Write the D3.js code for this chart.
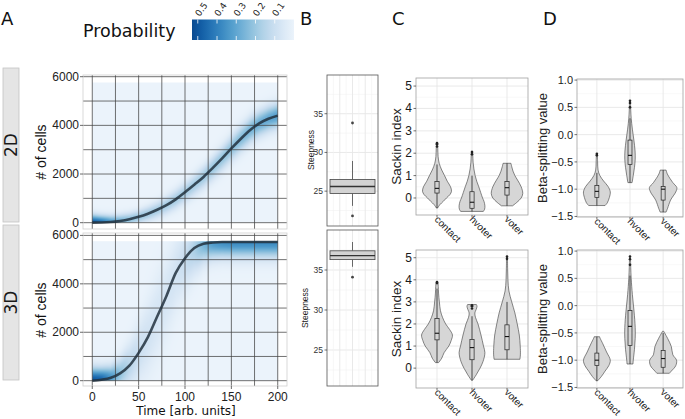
<!DOCTYPE html>
<html><head><meta charset="utf-8">
<script src="https://cdn.jsdelivr.net/npm/d3@7"></script>
<style>body{margin:0;background:#fff} svg{display:block}</style>
</head><body>
<svg id="fig" width="685" height="419"></svg>
<script>
// ---------------- DATA ----------------
const time = [0,10,20,30,40,50,60,70,80,90,100,110,120,130,140,150,160,170,180,190,200];
const cells2D = [0,5,25,70,140,240,370,530,720,960,1250,1560,1880,2250,2640,3050,3440,3800,4080,4270,4400];
const cells3D = [0,40,120,300,620,1150,1800,2650,3500,4450,5060,5480,5660,5710,5730,5730,5730,5730,5730,5730,5730];
const spreadUp2D = [220,200,190,185,185,190,205,225,245,265,280,295,310,325,340,350,355,355,350,345,340];
const spreadDown2D = [220,200,190,185,185,190,205,225,245,265,280,295,310,325,340,350,355,355,350,345,340];
const peak2D = [0.5,0.44,0.33,0.26,0.22,0.2,0.19,0.18,0.18,0.18,0.18,0.18,0.19,0.2,0.21,0.22,0.24,0.26,0.28,0.3,0.32];
const spreadUp3D = [350,330,330,420,600,800,1000,1100,1100,1000,800,500,300,200,180,180,180,180,180,180,180];
const spreadDown3D = [350,330,330,420,600,800,1000,1100,1100,1000,850,700,520,440,420,420,420,420,420,420,420];
const peak3D = [0.5,0.46,0.34,0.22,0.14,0.1,0.08,0.07,0.07,0.08,0.11,0.17,0.26,0.33,0.36,0.37,0.37,0.37,0.37,0.37,0.37];
const rasterTop = 5760;
const xTicksA = [0,50,100,150,200];
const yTicksA = [0,2000,4000,6000];
const xGridA = [0,25,50,75,100,125,150,175,200];
const yGridA = [0,1000,2000,3000,4000,5000,6000];
const probTicks = [0.5,0.4,0.3,0.2,0.1];
const probMax = 0.53;
const facetLabels = ["2D","3D"];

// Panel B: steepness boxplots [lowerWhisker, Q1, median, Q3, upperWhisker]
const steepBox2D = [23.1,24.7,25.6,26.5,28.9];
const steepOut2D = [33.8,21.8];
const steepBox3D = [35.4,36.3,36.8,37.4,38.5];
const steepOut3D = [34.1];
const steepTicks = [25,30,35];

// Panels C/D
const categories = ["contact","hvoter","voter"];
// violin profiles: [value, relative full width]
const sackin2DProfiles = [
  [[-0.45,0.04],[-0.3,0.18],[-0.15,0.4],[0,0.6],[0.15,0.82],[0.3,0.92],[0.5,0.86],[0.75,0.65],[1.0,0.48],[1.25,0.3],[1.55,0.14],[1.85,0.07],[2.2,0.05],[2.45,0.03]],
  [[-0.6,0.72],[-0.5,0.8],[-0.35,0.82],[-0.15,0.76],[0,0.67],[0.25,0.55],[0.5,0.43],[0.75,0.3],[1.0,0.2],[1.3,0.12],[1.6,0.07],[1.9,0.05],[2.1,0.03]],
  [[-0.35,0.35],[-0.2,0.62],[0,0.9],[0.2,1.0],[0.5,0.9],[0.8,0.67],[1.0,0.5],[1.2,0.38],[1.4,0.3],[1.55,0.25]]
];
const sackin2DBoxes = [[-0.45,0.22,0.43,0.73,1.5],[-0.6,-0.46,-0.19,0.28,1.0],[-0.35,0.13,0.46,0.73,1.55]];
const sackin2DOutliers = [[2.3,2.4,2.45],[1.95,2.05],[]];
const sackin3DProfiles = [
  [[0.25,0.1],[0.45,0.3],[0.7,0.45],[1.0,0.75],[1.25,0.9],[1.5,0.98],[1.75,0.8],[2.0,0.55],[2.3,0.35],[2.6,0.22],[3.0,0.15],[3.4,0.1],[3.7,0.08],[3.9,0.06]],
  [[-0.55,0.04],[-0.3,0.27],[0,0.51],[0.3,0.7],[0.7,0.82],[1.0,0.73],[1.5,0.57],[2.0,0.38],[2.3,0.22],[2.5,0.18],[2.65,0.26],[2.8,0.32],[2.88,0.28]],
  [[0.4,0.82],[0.6,0.85],[1.0,0.84],[1.5,0.78],[2.0,0.65],[2.5,0.5],[3.0,0.3],[3.5,0.12],[4.0,0.06],[4.5,0.04],[5.05,0.03]]
];
const sackin3DBoxes = [[0.25,1.28,1.58,2.25,3.6],[-0.55,0.38,0.93,1.3,2.35],[0.4,0.83,1.43,1.96,3.0]];
const sackin3DOutliers = [[3.85,3.9],[2.7,2.8,2.85],[4.95,5.05]];
const sackinTicks = [0,1,2,3,4,5];

const beta2DProfiles = [
  [[-1.3,0.55],[-1.25,0.7],[-1.15,0.84],[-1.05,0.9],[-0.95,0.75],[-0.85,0.45],[-0.75,0.2],[-0.65,0.08],[-0.5,0.05],[-0.35,0.03]],
  [[-0.88,0.14],[-0.75,0.22],[-0.6,0.3],[-0.45,0.35],[-0.3,0.34],[-0.1,0.26],[0.1,0.16],[0.3,0.08],[0.45,0.05],[0.62,0.03]],
  [[-1.42,0.2],[-1.35,0.3],[-1.2,0.5],[-1.05,0.85],[-0.97,0.92],[-0.88,0.65],[-0.8,0.45],[-0.72,0.28],[-0.65,0.2]]
];
const beta2DBoxes = [[-1.3,-1.15,-1.04,-0.93,-0.7],[-0.88,-0.55,-0.38,-0.1,0.3],[-1.42,-1.2,-1.0,-0.95,-0.65]];
const beta2DOutliers = [[-0.38,-0.35],[0.5,0.58,0.62],[]];
const beta3DProfiles = [
  [[-1.38,0.04],[-1.3,0.3],[-1.2,0.55],[-1.1,0.8],[-1.0,0.9],[-0.85,0.65],[-0.7,0.4],[-0.6,0.22],[-0.57,0.18]],
  [[-1.07,0.2],[-1.0,0.22],[-0.8,0.3],[-0.6,0.35],[-0.4,0.35],[-0.1,0.27],[0.2,0.16],[0.5,0.08],[0.7,0.05],[0.9,0.03]],
  [[-1.24,0.42],[-1.2,0.55],[-1.1,0.85],[-1.0,0.9],[-0.9,0.65],[-0.75,0.55],[-0.6,0.3],[-0.5,0.1],[-0.47,0.04]]
];
const beta3DBoxes = [[-1.38,-1.1,-1.0,-0.87,-0.57],[-1.07,-0.73,-0.38,-0.09,0.55],[-1.24,-1.13,-0.97,-0.82,-0.5]];
const beta3DOutliers = [[],[0.75,0.85,0.9],[]];
const betaTicks = [-1.5,-1.0,-0.5,0.0,0.5,1.0];

// ---------------- DRAW ----------------
const SANS = "'Liberation Sans', Arial, sans-serif";
const DV = "'DejaVu Sans', sans-serif";
const svg = d3.select("#fig");
svg.append("rect").attr("width",685).attr("height",419).attr("fill","#fff");

const lut = d3.range(256).map(i => d3.rgb(d3.interpolateBlues(0.06 + 0.84*i/255)));
const blue = v => lut[Math.round(Math.max(0,Math.min(v/probMax,1))*255)];

function panelLetter(txt, x, y){
  svg.append("text").attr("x",x).attr("y",y).text(txt)
    .attr("font-family",DV).attr("font-size",18).attr("fill","#111");
}

// ---- Panel A ----
function growth(cfg){
  const x = d3.scaleLinear().domain([-10,210]).range([83,287]);
  const y = d3.scaleLinear().domain(cfg.dom).range([cfg.y1,cfg.y0]);
  const g = svg.append("g");
  g.append("rect").attr("x",83).attr("y",cfg.y0).attr("width",204).attr("height",cfg.y1-cfg.y0).attr("fill","#fff");
  const muS = d3.scaleLinear().domain(time).range(cfg.cells);
  const upS = d3.scaleLinear().domain(time).range(cfg.up);
  const dnS = d3.scaleLinear().domain(time).range(cfg.dn);
  const pkS = d3.scaleLinear().domain(time).range(cfg.pk);
  const gx0 = x(0), gx1 = x(200), gy0 = y(rasterTop), gy1 = y(0);
  const S = 2, W = Math.round((gx1-gx0)*S), H = Math.round((gy1-gy0)*S);
  const cv = document.createElement("canvas"); cv.width = W; cv.height = H;
  const ctx = cv.getContext("2d"); const img = ctx.createImageData(W,H);
  for (let i=0;i<W;i++){
    const t = x.invert(gx0+(i+0.5)/S);
    const m = muS(t), u = upS(t), d = dnS(t), p = pkS(t);
    for (let j=0;j<H;j++){
      const c = y.invert(gy0+(j+0.5)/S);
      const z = (c-m)/(c>m?u:d);
      const col = blue(p*Math.exp(-0.5*z*z));
      const k = (j*W+i)*4;
      img.data[k]=col.r; img.data[k+1]=col.g; img.data[k+2]=col.b; img.data[k+3]=255;
    }
  }
  ctx.putImageData(img,0,0);
  g.append("image").attr("x",gx0).attr("y",gy0).attr("width",gx1-gx0).attr("height",gy1-gy0)
    .attr("preserveAspectRatio","none").attr("href",cv.toDataURL());
  // grid
  g.selectAll(".hg").data(yGridA).join("line")
    .attr("x1",83).attr("x2",287).attr("y1",d=>y(d)).attr("y2",d=>y(d))
    .attr("stroke","#444").attr("stroke-width",0.9).attr("stroke-opacity",0.85);
  g.selectAll(".vg").data(xGridA).join("line")
    .attr("y1",cfg.y0).attr("y2",cfg.y1).attr("x1",d=>x(d)).attr("x2",d=>x(d))
    .attr("stroke","#444").attr("stroke-width",0.9).attr("stroke-opacity",0.85);
  // curve
  const line = d3.line().x(d=>x(d[0])).y(d=>y(d[1])).curve(d3.curveMonotoneX);
  g.append("path").attr("d",line(time.map((t,i)=>[t,cfg.cells[i]])))
    .attr("fill","none").attr("stroke","#22313e").attr("stroke-width",2.6).attr("stroke-opacity",0.85);
  // border
  g.append("rect").attr("x",83).attr("y",cfg.y0).attr("width",204).attr("height",cfg.y1-cfg.y0)
    .attr("fill","none").attr("stroke","#cfcfcf").attr("stroke-width",0.8);
  // y axis
  g.selectAll(".yt").data(yTicksA).join("text")
    .attr("x",79).attr("y",d=>y(d)+4).attr("text-anchor","end").text(d=>d)
    .attr("font-family",SANS).attr("font-size",12).attr("fill","#222");
  g.selectAll(".ytm").data(yTicksA).join("line")
    .attr("x1",80).attr("x2",83).attr("y1",d=>y(d)).attr("y2",d=>y(d)).attr("stroke","#444").attr("stroke-width",0.8);
  g.append("text").attr("transform",`translate(46,${cfg.titleY}) rotate(-90)`).attr("text-anchor","middle")
    .text("# of cells").attr("font-family",SANS).attr("font-size",14).attr("fill","#111");
  // strip
  g.append("rect").attr("x",3).attr("y",cfg.sy0).attr("width",16).attr("height",cfg.sy1-cfg.sy0)
    .attr("fill","#e5e5e5").attr("stroke","#c4c4c4").attr("stroke-width",0.8);
  g.append("text").attr("transform",`translate(17,${(cfg.sy0+cfg.sy1)/2}) rotate(-90)`).attr("text-anchor","middle")
    .text(cfg.label).attr("font-family",DV).attr("font-size",17).attr("fill","#1a1a1a");
  if (cfg.xaxis){
    g.selectAll(".xtm").data(xTicksA).join("line")
      .attr("x1",d=>x(d)).attr("x2",d=>x(d)).attr("y1",cfg.y1).attr("y2",cfg.y1+3).attr("stroke","#444").attr("stroke-width",0.8);
    g.selectAll(".xt").data(xTicksA).join("text")
      .attr("x",d=>x(d)).attr("y",cfg.y1+15).attr("text-anchor","middle").text(d=>d)
      .attr("font-family",SANS).attr("font-size",12).attr("fill","#222");
    g.append("text").attr("x",186).attr("y",415).attr("text-anchor","middle").text("Time [arb. units]")
      .attr("font-family",DV).attr("font-size",12).attr("fill","#111");
  }
}
growth({y0:75,y1:229,dom:[-260,6070],cells:cells2D,up:spreadUp2D,dn:spreadDown2D,pk:peak2D,
  titleY:152,label:facetLabels[0],sy0:68,sy1:222,xaxis:false});
growth({y0:233,y1:386,dom:[-220,6100],cells:cells3D,up:spreadUp3D,dn:spreadDown3D,pk:peak3D,
  titleY:310,label:facetLabels[1],sy0:225,sy1:380,xaxis:true});

// legend
panelLetter("A",1,25);
svg.append("text").attr("x",83).attr("y",37).text("Probability")
  .attr("font-family",DV).attr("font-size",17.5).attr("fill","#111");
const cb = d3.scaleLinear().domain([probMax,0]).range([192,294]);
const grad = svg.append("defs").append("linearGradient").attr("id","pgrad").attr("x1","0").attr("x2","1").attr("y1","0").attr("y2","0");
d3.range(0,1.0001,0.05).forEach(f=>{
  grad.append("stop").attr("offset",f).attr("stop-color", blue(probMax*(1-f)).formatHex());
});
svg.append("rect").attr("x",192).attr("y",19.5).attr("width",102).attr("height",20.5).attr("fill","url(#pgrad)");
probTicks.forEach(v=>{
  svg.append("line").attr("x1",cb(v)).attr("x2",cb(v)).attr("y1",19.5).attr("y2",23.5).attr("stroke","#fff").attr("stroke-width",0.8);
  svg.append("line").attr("x1",cb(v)).attr("x2",cb(v)).attr("y1",36).attr("y2",40).attr("stroke","#fff").attr("stroke-width",0.8);
  svg.append("text").attr("transform",`translate(${cb(v)+2},17) rotate(-55)`).text(v.toFixed(1))
    .attr("font-family",DV).attr("font-size",9).attr("fill","#222");
});

// ---- Panel B ----
function boxPanel(cfg){
  const X0=327, X1=378;
  const y = d3.scaleLinear().domain([20.5,40]).range([cfg.y1,cfg.y0]);
  const g = svg.append("g");
  g.append("rect").attr("x",X0).attr("y",cfg.y0).attr("width",X1-X0).attr("height",cfg.y1-cfg.y0).attr("fill","#fff");
  const minor = [22.5,27.5,32.5,37.5];
  g.selectAll(".mn").data(minor).join("line").attr("x1",X0).attr("x2",X1).attr("y1",d=>y(d)).attr("y2",d=>y(d))
    .attr("stroke","#f2f2f2").attr("stroke-width",0.6);
  g.selectAll(".mj").data(steepTicks).join("line").attr("x1",X0).attr("x2",X1).attr("y1",d=>y(d)).attr("y2",d=>y(d))
    .attr("stroke","#e6e6e6").attr("stroke-width",0.9);
  const xs = d3.scaleLinear().domain([0,8]).range([X0,X1]);
  g.selectAll(".vv").data([1,2,3,4,5,6,7]).join("line").attr("y1",cfg.y0).attr("y2",cfg.y1).attr("x1",d=>xs(d)).attr("x2",d=>xs(d))
    .attr("stroke",d=>d%2?"#f2f2f2":"#e6e6e6").attr("stroke-width",d=>d%2?0.6:0.9);
  const b = cfg.box, cx = (X0+X1)/2;
  g.append("line").attr("x1",cx).attr("x2",cx).attr("y1",y(b[0])).attr("y2",y(b[1])).attr("stroke","#444").attr("stroke-width",0.8);
  g.append("line").attr("x1",cx).attr("x2",cx).attr("y1",y(b[3])).attr("y2",y(b[4])).attr("stroke","#444").attr("stroke-width",0.8);
  g.append("rect").attr("x",X0+3).attr("width",X1-X0-6).attr("y",y(b[3])).attr("height",y(b[1])-y(b[3]))
    .attr("fill","#d3d3d3").attr("stroke","#444").attr("stroke-width",0.8);
  g.append("line").attr("x1",X0+3).attr("x2",X1-3).attr("y1",y(b[2])).attr("y2",y(b[2])).attr("stroke","#333").attr("stroke-width",1.4);
  g.selectAll(".o").data(cfg.out).join("circle").attr("cx",cx).attr("cy",d=>y(d)).attr("r",1.4).attr("fill","#444");
  g.append("rect").attr("x",X0).attr("y",cfg.y0).attr("width",X1-X0).attr("height",cfg.y1-cfg.y0)
    .attr("fill","none").attr("stroke","#555").attr("stroke-width",0.8);
  g.selectAll(".t").data(steepTicks).join("text").attr("x",X0-4).attr("y",d=>y(d)+3).attr("text-anchor","end").text(d=>d)
    .attr("font-family",SANS).attr("font-size",8.5).attr("fill","#333");
  g.selectAll(".tm").data(steepTicks).join("line").attr("x1",X0-2.5).attr("x2",X0).attr("y1",d=>y(d)).attr("y2",d=>y(d))
    .attr("stroke","#333").attr("stroke-width",0.7);
  g.append("text").attr("transform",`translate(${cfg.tx},${cfg.ty}) rotate(-90)`).attr("text-anchor","middle")
    .text("Steepness").attr("font-family",SANS).attr("font-size",8.5).attr("fill","#222");
}
boxPanel({y0:75,y1:226,box:steepBox2D,out:steepOut2D,tx:314,ty:150});
boxPanel({y0:230,y1:386,box:steepBox3D,out:steepOut3D,tx:308,ty:308});
panelLetter("B",300,25);

// ---- Panels C / D ----
function violinPanel(cfg){
  const x = d3.scalePoint().domain(categories).range([cfg.x0,cfg.x1]).padding(0.6);
  const step = x.step();
  const y = d3.scaleLinear().domain(cfg.dom).range([cfg.y1,cfg.y0]);
  const g = svg.append("g");
  g.append("rect").attr("x",cfg.x0).attr("y",cfg.y0).attr("width",cfg.x1-cfg.x0).attr("height",cfg.y1-cfg.y0).attr("fill","#fff");
  g.selectAll(".mn").data(cfg.minor).join("line").attr("x1",cfg.x0).attr("x2",cfg.x1).attr("y1",d=>y(d)).attr("y2",d=>y(d))
    .attr("stroke","#f3f3f3").attr("stroke-width",0.6);
  g.selectAll(".mj").data(cfg.ticks).join("line").attr("x1",cfg.x0).attr("x2",cfg.x1).attr("y1",d=>y(d)).attr("y2",d=>y(d))
    .attr("stroke","#e6e6e6").attr("stroke-width",0.9);
  g.selectAll(".vg").data(categories).join("line").attr("y1",cfg.y0).attr("y2",cfg.y1).attr("x1",d=>x(d)).attr("x2",d=>x(d))
    .attr("stroke","#e6e6e6").attr("stroke-width",0.9);
  categories.forEach((c,i)=>{
    const cx = x(c);
    const area = d3.area().y(d=>y(d[0])).x0(d=>cx-d[1]*step*0.45).x1(d=>cx+d[1]*step*0.45).curve(d3.curveCatmullRom);
    g.append("path").attr("d",area(cfg.profiles[i])).attr("fill","#d6d6d6").attr("stroke","#3a3a3a").attr("stroke-width",0.6);
    const b = cfg.boxes[i], bw = step*0.12;
    g.append("line").attr("x1",cx).attr("x2",cx).attr("y1",y(b[0])).attr("y2",y(b[4])).attr("stroke","#222").attr("stroke-width",0.8);
    g.append("rect").attr("x",cx-bw/2).attr("width",bw).attr("y",y(b[3])).attr("height",y(b[1])-y(b[3]))
      .attr("fill","#d3d3d3").attr("stroke","#222").attr("stroke-width",0.7);
    g.append("line").attr("x1",cx-bw/2).attr("x2",cx+bw/2).attr("y1",y(b[2])).attr("y2",y(b[2])).attr("stroke","#111").attr("stroke-width",1.1);
    g.selectAll(null).data(cfg.outliers[i]).join("circle").attr("cx",cx).attr("cy",d=>y(d)).attr("r",1.3).attr("fill","#222");
  });
  g.append("rect").attr("x",cfg.x0).attr("y",cfg.y0).attr("width",cfg.x1-cfg.x0).attr("height",cfg.y1-cfg.y0)
    .attr("fill","none").attr("stroke","#a0a0a0").attr("stroke-width",0.8);
  g.selectAll(".t").data(cfg.ticks).join("text").attr("x",cfg.x0-4).attr("y",d=>y(d)+4).attr("text-anchor","end").text(cfg.fmt)
    .attr("font-family",SANS).attr("font-size",cfg.fs).attr("fill","#1a1a1a");
  g.selectAll(".tm").data(cfg.ticks).join("line").attr("x1",cfg.x0-2.5).attr("x2",cfg.x0).attr("y1",d=>y(d)).attr("y2",d=>y(d))
    .attr("stroke","#333").attr("stroke-width",0.7);
  g.selectAll(".xtm").data(categories).join("line").attr("x1",d=>x(d)).attr("x2",d=>x(d)).attr("y1",cfg.y1).attr("y2",cfg.y1+2.5)
    .attr("stroke","#333").attr("stroke-width",0.7);
  g.selectAll(".xt").data(categories).join("text")
    .attr("transform",d=>`translate(${x(d)-1},${cfg.y1+3}) rotate(45)`).attr("dy","0.3em").text(d=>d)
    .attr("font-family",SANS).attr("font-size",10).attr("fill","#1a1a1a");
  g.append("text").attr("transform",`translate(${cfg.tx},${(cfg.y0+cfg.y1)/2}) rotate(-90)`).attr("text-anchor","middle")
    .text(cfg.title).attr("font-family",SANS).attr("font-size",cfg.tfs).attr("fill","#222");
}
const fmtBeta = d => (d<0?"\u2212":"") + Math.abs(d).toFixed(1);
violinPanel({x0:416,x1:528,y0:78,y1:215,dom:[-0.76,5.36],ticks:sackinTicks,minor:[-0.5,0.5,1.5,2.5,3.5,4.5],fmt:d=>d,fs:12,
  profiles:sackin2DProfiles,boxes:sackin2DBoxes,outliers:sackin2DOutliers,title:"Sackin index",tx:401,tfs:13.5});
violinPanel({x0:416,x1:528,y0:250,y1:388,dom:[-0.9,5.35],ticks:sackinTicks,minor:[-0.5,0.5,1.5,2.5,3.5,4.5],fmt:d=>d,fs:12,
  profiles:sackin3DProfiles,boxes:sackin3DBoxes,outliers:sackin3DOutliers,title:"Sackin index",tx:401,tfs:13.5});
violinPanel({x0:577,x1:683,y0:79,y1:217,dom:[-1.51,1.02],ticks:betaTicks,minor:[-1.25,-0.75,-0.25,0.25,0.75],fmt:fmtBeta,fs:11,
  profiles:beta2DProfiles,boxes:beta2DBoxes,outliers:beta2DOutliers,title:"Beta-splitting value",tx:547,tfs:13});
violinPanel({x0:577,x1:683,y0:250,y1:388,dom:[-1.51,1.02],ticks:betaTicks,minor:[-1.25,-0.75,-0.25,0.25,0.75],fmt:fmtBeta,fs:11,
  profiles:beta3DProfiles,boxes:beta3DBoxes,outliers:beta3DOutliers,title:"Beta-splitting value",tx:547,tfs:13});
panelLetter("C",392,25);
panelLetter("D",543,25);
</script></body></html>
